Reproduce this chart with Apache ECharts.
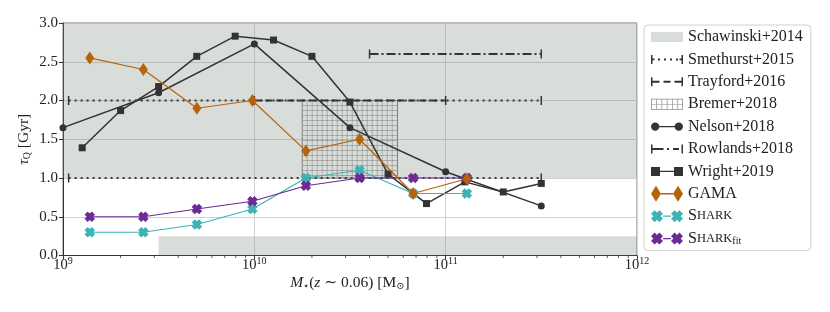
<!DOCTYPE html>
<html><head><meta charset="utf-8">
<script src="https://cdn.jsdelivr.net/npm/echarts@6/dist/echarts.min.js"></script>
<style>html,body{margin:0;padding:0;background:#fff}#c{width:830px;height:312px}</style>
</head><body><div id="c"></div>
<script>
// ---------------- data ----------------
const xMin = 1e9, xMax = 1e12;
const yMin = 0, yMax = 3, yStep = 0.5;
const minorTicks = [2e9,3e9,4e9,5e9,6e9,7e9,8e9,9e9,2e10,3e10,4e10,5e10,6e10,7e10,8e10,9e10,2e11,3e11,4e11,5e11,6e11,7e11,8e11,9e11];
// Schawinski+2014 shaded regions: [xStart, xEnd, yLow, yHigh]
const schawinskiBoxes = [[1e9, 1e12, 1.0, 3.0], [3.16e9, 1e12, 0.0, 0.25]];
// Smethurst+2015 ranges
const smethurstX = [1.07e9, 3.16e11];
const smethurstY = [1.0, 2.0];
// Trayford+2016
const trayfordX = [1e10, 1e11];
const trayfordY = 2.0;
// Bremer+2018 box: [xStart, xEnd, yLow, yHigh]
const bremerBox = [1.78e10, 5.6e10, 1.0, 2.0];
// Nelson+2018
const nelsonX = [1e9, 3.16e9, 1e10, 3.16e10, 1e11, 3.16e11];
const nelsonY = [1.65, 2.10, 2.73, 1.65, 1.08, 0.64];
// Rowlands+2018
const rowlandsX = [4e10, 3.16e11];
const rowlandsY = 2.6;
// Wright+2019
const wrightX = [1.26e9, 2e9, 3.16e9, 5e9, 7.94e9, 1.26e10, 2e10, 3.16e10, 5e10, 7.94e10, 1.26e11, 2e11, 3.16e11];
const wrightY = [1.39, 1.87, 2.18, 2.57, 2.83, 2.78, 2.57, 1.98, 1.05, 0.67, 0.95, 0.82, 0.93];
// GAMA, SHARK, SHARK_fit (shared mass bins)
const binX = [1.38e9, 2.63e9, 5.01e9, 9.77e9, 1.86e10, 3.55e10, 6.76e10, 1.29e11];
const gamaY = [2.55, 2.40, 1.90, 2.00, 1.35, 1.50, 0.80, 0.99];
const sharkY = [0.30, 0.30, 0.40, 0.60, 1.00, 1.10, 0.80, 0.80];
const sharkFitY = [0.50, 0.50, 0.60, 0.70, 0.90, 1.00, 1.00, 1.00];

// ---------------- styling ----------------
const F = "'Liberation Serif','DejaVu Serif',serif";
const DARK = '#333333';
const FILL = 'rgba(128,144,128,0.3)';
const GAMA_C = '#b5640b';
const SHARK_C = '#3db3b3';
const FIT_C = '#6a2c94';
const crossPath = 'path://M0,3 L3,0 L5,2 L7,0 L10,3 L8,5 L10,7 L7,10 L5,8 L3,10 L0,7 L2,5 Z';
const capPath = 'path://M0,0 L1,0 L1,1 L0,1 Z';

// legend icons (32 px wide)
const capL = 'M0,1.5h1.5v9h-1.5z M30.5,1.5h1.5v9h-1.5z ';
const icons = {
  schawinski: 'path://M0,0H32V10H0Z',
  smethurst: 'path://' + capL + 'M1.5,5.2h2v1.6h-2z M7,5h2v2h-2z M13,5h2v2h-2z M19,5h2v2h-2z M25,5h2v2h-2z M28.5,5.2h2v1.6h-2z',
  trayford: 'path://' + capL + 'M1.5,5h7v2h-7z M12.5,5h7v2h-7z M23.5,5h7v2h-7z',
  bremer: 'path://M0,0H32V11H0Z M0.8,0.8V10.2H31.2V0.8Z M5.2,0h0.7v11h-0.7z M10.5,0h0.7v11h-0.7z M15.8,0h0.7v11h-0.7z M21.1,0h0.7v11h-0.7z M26.4,0h0.7v11h-0.7z M0,5.2h32v0.7h-32z',
  rowlands: 'path://' + capL + 'M1.5,5h11v2h-11z M16,5h2v2h-2z M22,5h6v2h-6z',
  nelson: 'path://M0,6 A4.2,4.2 0 1 1 8.4,6 A4.2,4.2 0 1 1 0,6 Z M23.6,6 A4.2,4.2 0 1 1 32,6 A4.2,4.2 0 1 1 23.6,6 Z M8.2,5.3H23.8V6.7H8.2Z',
  wright: 'path://M0,1.5h9v9h-9z M23,1.5h9v9h-9z M9,5.3h14v1.4h-14z',
  gama: 'path://M5,0 L10,8 L5,16 L0,8 Z M27,0 L32,8 L27,16 L22,8 Z M10,7.3H22V8.7H10Z',
  shark: 'path://M0,3.6 L3.6,0 L6,2.4 L8.4,0 L12,3.6 L9.6,6 L12,8.4 L8.4,12 L6,9.6 L3.6,12 L0,8.4 L2.4,6 Z M20,3.6 L23.6,0 L26,2.4 L28.4,0 L32,3.6 L29.6,6 L32,8.4 L28.4,12 L26,9.6 L23.6,12 L20,8.4 L22.4,6 Z M12,5.4H20V6.6H12Z'
};

function boxRender(fill) {
  return function (params, api) {
    const p0 = api.coord([api.value(0), api.value(3)]);
    const p1 = api.coord([api.value(1), api.value(2)]);
    return {type: 'rect', shape: {x: p0[0], y: p0[1], width: p1[0] - p0[0], height: p1[1] - p0[1]},
      style: {fill: fill}};
  };
}

function hatchRender(params, api) {
  const p0 = api.coord([api.value(0), api.value(3)]);
  const p1 = api.coord([api.value(1), api.value(2)]);
  const x0 = p0[0], y0 = p0[1], x1 = p1[0], y1 = p1[1];
  const children = [];
  const st = {stroke: 'rgba(110,110,110,0.55)', lineWidth: 0.8, fill: null};
  for (let x = x0 + 5; x < x1 - 0.5; x += 5) children.push({type: 'line', shape: {x1: x, y1: y0, x2: x, y2: y1}, style: st});
  for (let y = y0 + 5; y < y1 - 0.5; y += 5) children.push({type: 'line', shape: {x1: x0, y1: y, x2: x1, y2: y}, style: st});
  children.push({type: 'rect', shape: {x: x0, y: y0, width: x1 - x0, height: y1 - y0},
    style: {fill: null, stroke: 'rgba(120,120,120,0.9)', lineWidth: 1}});
  return {type: 'group', children: children};
}

function minorRender(params, api) {
  const p = api.coord([api.value(0), yMin]);
  return {type: 'line', shape: {x1: p[0], y1: p[1] + 0.5, x2: p[0], y2: p[1] + 2.5},
    style: {stroke: DARK, lineWidth: 0.8}};
}

function errLine(name, xs, y, dash) {
  return {
    type: 'line', name: name, z: 3, silent: true,
    data: xs.map(x => [x, y]),
    symbol: capPath, symbolSize: [1.5, 9], symbolKeepAspect: false,
    itemStyle: {color: DARK, borderWidth: 0},
    lineStyle: {color: DARK, width: 2, type: dash, cap: 'butt'},
    emphasis: {disabled: true}
  };
}

function dataLine(name, xs, ys, color, symbol, size, width, z) {
  return {
    type: 'line', name: name, z: z, silent: true,
    data: xs.map((x, i) => [x, ys[i]]),
    symbol: symbol, symbolSize: size, symbolKeepAspect: false, showSymbol: true,
    itemStyle: {color: color, borderWidth: 0},
    lineStyle: {color: color, width: width},
    emphasis: {disabled: true}
  };
}

const series = [
  {type: 'custom', name: 'Schawinski+2014', z: 1, silent: true, renderItem: boxRender(FILL),
    itemStyle: {color: FILL}, encode: {x: [0, 1], y: [2, 3]}, data: schawinskiBoxes},
  errLine('Smethurst+2015', smethurstX, smethurstY[0], [2, 4]),
  errLine('Smethurst+2015', smethurstX, smethurstY[1], [2, 4]),
  errLine('Trayford+2016', trayfordX, trayfordY, [7, 4]),
  {type: 'custom', name: 'Bremer+2018', z: 2, silent: true, renderItem: hatchRender,
    itemStyle: {color: '#8c8c8c'}, encode: {x: [0, 1], y: [2, 3]}, data: [bremerBox]},
  dataLine('Nelson+2018', nelsonX, nelsonY, DARK, 'circle', 7, 1.5, 4),
  errLine('Rowlands+2018', rowlandsX, rowlandsY, [9, 3, 2, 3]),
  dataLine('Wright+2019', wrightX, wrightY, DARK, 'rect', 7, 1.5, 4),
  dataLine('GAMA', binX, gamaY, GAMA_C, 'diamond', [9, 13], 1.2, 7),
  dataLine('Shark', binX, sharkY, SHARK_C, crossPath, 10.5, 1.2, 5),
  dataLine('Shark fit', binX, sharkFitY, FIT_C, crossPath, 10.5, 1.2, 6),
  {type: 'custom', name: 'minor', z: 10, silent: true, renderItem: minorRender, clip: false,
    encode: {x: 0}, data: minorTicks.map(v => [v])}
];

const legendNames = [
  ['Schawinski+2014', icons.schawinski], ['Smethurst+2015', icons.smethurst], ['Trayford+2016', icons.trayford],
  ['Bremer+2018', icons.bremer], ['Nelson+2018', icons.nelson], ['Rowlands+2018', icons.rowlands],
  ['Wright+2019', icons.wright], ['GAMA', icons.gama], ['Shark', icons.shark], ['Shark fit', icons.shark]
];

const chart = echarts.init(document.getElementById('c'), null, {renderer: 'canvas'});
chart.setOption({
  animation: false,
  backgroundColor: '#ffffff',
  grid: {left: 63, right: 193, top: 23, bottom: 56.5, show: true, borderColor: '#7a7a7a', borderWidth: 1, backgroundColor: 'transparent', containLabel: false},
  xAxis: {
    type: 'log', logBase: 10, min: xMin, max: xMax,
    name: '{i|M}{sub|⋆}({i|z} ∼ 0.06) [M{sub|⊙}]',
    nameLocation: 'middle', nameGap: 19, nameMoveOverlap: false,
    nameTextStyle: {fontFamily: F, fontSize: 15.5, color: '#222',
      rich: {i: {fontFamily: F, fontSize: 15.5, fontStyle: 'italic', color: '#222'},
             sub: {fontFamily: F, fontSize: 10, color: '#222', padding: [7, 0, 0, 0]}}},
    axisLine: {lineStyle: {color: DARK, width: 1}},
    axisTick: {show: true, length: 4, lineStyle: {color: DARK, width: 1}},
    minorTick: {show: false},
    axisLabel: {margin: 1, color: '#222', fontFamily: F, fontSize: 14,
      formatter: v => '{b|10}{s|' + Math.round(Math.log10(v)) + '}',
      rich: {b: {fontFamily: F, fontSize: 14.5, color: '#222'},
             s: {fontFamily: F, fontSize: 10, color: '#222', padding: [0, 0, 8, 0]}}},
    splitLine: {show: true, lineStyle: {color: '#d2d2d2', width: 1}}
  },
  yAxis: {
    type: 'value', min: yMin, max: yMax, interval: yStep,
    name: '{i|τ}{sub|Q} [Gyr]',
    nameLocation: 'middle', nameGap: 31, nameMoveOverlap: false,
    nameTextStyle: {fontFamily: F, fontSize: 15.5, color: '#222',
      rich: {i: {fontFamily: F, fontSize: 15.5, fontStyle: 'italic', color: '#222'},
             sub: {fontFamily: F, fontSize: 10, color: '#222', padding: [7, 0, 0, 0]}}},
    axisLine: {show: true, lineStyle: {color: DARK, width: 1}},
    axisTick: {show: true, length: 4, lineStyle: {color: DARK, width: 1}},
    axisLabel: {margin: 5, color: '#222', fontFamily: F, fontSize: 15, formatter: v => v.toFixed(1)},
    splitLine: {show: true, lineStyle: {color: '#d2d2d2', width: 1}}
  },
  legend: {
    orient: 'vertical', left: 644, top: 25,
    padding: [4, 8, 4, 7], itemGap: 6.4, itemWidth: 32, itemHeight: 16, itemTextGap: 13,
    backgroundColor: '#ffffff', borderColor: '#d0d0d0', borderWidth: 1, borderRadius: 4,
    selectedMode: false, symbolKeepAspect: true,
    itemStyle: {borderWidth: 0},
    lineStyle: {width: 0},
    data: legendNames.map(d => ({name: d[0], icon: d[1]})),
    formatter: n => n === 'Shark' ? '{n|S}{sc|HARK}' : (n === 'Shark fit' ? '{n|S}{sc|HARK}{sub|fit}' : n),
    textStyle: {fontFamily: F, fontSize: 16, color: '#222', lineHeight: 16,
      rich: {n: {fontFamily: F, fontSize: 16, color: '#222', lineHeight: 16},
             sc: {fontFamily: F, fontSize: 12.5, color: '#222', lineHeight: 16},
             sub: {fontFamily: F, fontSize: 10, color: '#222', lineHeight: 16, padding: [6, 0, 0, 0]}}}
  },
  series: series
});
</script></body></html>
